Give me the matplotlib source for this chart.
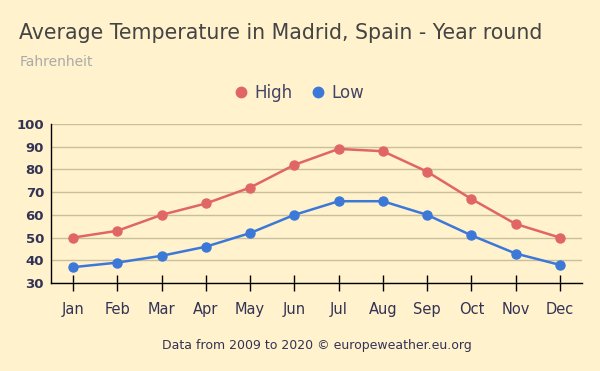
import matplotlib.pyplot as plt
import numpy as np

months = ["Jan", "Feb", "Mar", "Apr", "May", "Jun",
          "Jul", "Aug", "Sep", "Oct", "Nov", "Dec"]
high = [50, 53, 60, 65, 72, 82, 89, 88, 79, 67, 56, 50]
low = [37, 39, 42, 46, 52, 60, 66, 66, 60, 51, 43, 38]
yticks = [30, 40, 50, 60, 70, 80, 90, 100]

bg = "#fff2cc"
red = "#e06666"
blue = "#3c78d8"

fig = plt.figure(figsize=(6, 3.71), dpi=100, facecolor=bg)
ax = fig.add_axes([0.085, 0.237, 0.885, 0.429], facecolor=bg)

x = np.arange(len(months))
ax.plot(x, high, color=red, lw=1.8, marker="o", ms=6.5, label="High", zorder=3)
ax.plot(x, low, color=blue, lw=1.8, marker="o", ms=6.5, label="Low", zorder=3)

ax.set_xlim(-0.5, len(months) - 0.5)
ax.set_ylim(30, 100)
ax.set_yticks(yticks)
ax.set_xticks(x)
ax.set_xticklabels(months, fontsize=10.5, color="#333355")
ax.set_yticklabels([str(v) for v in yticks], fontsize=9.5, fontweight="bold", color="#333355")
ax.tick_params(axis="y", length=0, pad=5)
ax.tick_params(axis="x", length=11, width=1, color="black", direction="inout", pad=8)
ax.grid(axis="y", color="#c9bf9f", lw=1)
ax.set_axisbelow(True)
for s in ["top", "right"]:
    ax.spines[s].set_visible(False)
for s in ["left", "bottom"]:
    ax.spines[s].set_color("black")
    ax.spines[s].set_linewidth(1)

fig.text(0.032, 0.91, "Average Temperature in Madrid, Spain - Year round",
         fontsize=14.8, color="#444444", va="center")
fig.text(0.032, 0.833, "Fahrenheit", fontsize=10, color="#aaaaaa", va="center")
fig.legend(loc="center", bbox_to_anchor=(0.5, 0.75), ncol=2, frameon=False,
           handlelength=0.6, handletextpad=0.5, columnspacing=1.2,
           fontsize=12, labelcolor="#444466", markerscale=1.15)
leg = fig.legends[0]
for h in leg.legend_handles:
    h.set_linestyle("")
fig.text(0.528, 0.07, "Data from 2009 to 2020 \u00a9 europeweather.eu.org",
         fontsize=9, color="#333355", ha="center", va="center")

fig.savefig("out.png", dpi=100, facecolor=bg)
